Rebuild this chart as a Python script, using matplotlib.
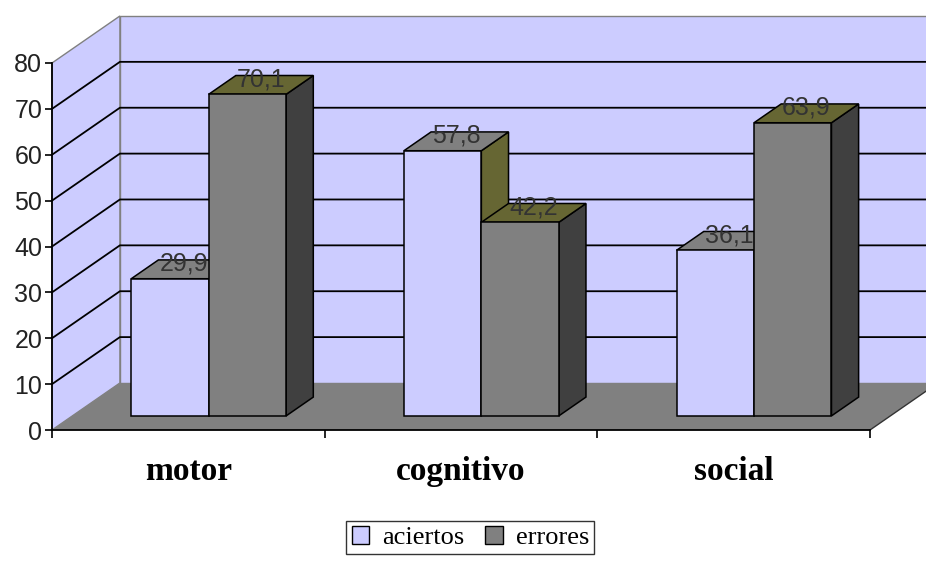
import matplotlib.pyplot as plt
from matplotlib.patches import Polygon
from matplotlib.ticker import FixedLocator

categories = ['motor', 'cognitivo', 'social']
aciertos = [29.9, 57.8, 36.1]
errores = [70.1, 42.2, 63.9]
yticks = [0, 10, 20, 30, 40, 50, 60, 70, 80]

plt.rcParams['font.family'] = ['Liberation Sans', 'DejaVu Sans']

# oblique "3d" look: full depth offset in data units (x in categories, y in value)
DX, DY = 0.249, 10.25
D0, D1 = 0.3, 0.7      # bar depth (front, back)
W = 0.284              # bar width in category units

lav = '#ccccff'
fig = plt.figure(figsize=(9.26, 5.63), dpi=100)
ax = fig.add_axes([52 / 926, 133 / 563, 818 / 926, 367 / 563])
ax.set_xlim(0, len(categories))
ax.set_ylim(0, 80)
ax.patch.set_visible(False)


def p(x, y, d):
    return (x + d * DX, y + d * DY)


def face(pts, fc, ec='black', lw=1.1, z=3):
    ax.add_patch(Polygon([p(*q) for q in pts], closed=True, facecolor=fc,
                         edgecolor=ec, linewidth=lw, zorder=z, clip_on=False))


n = len(categories)
top = yticks[-1]
# walls and floor
face([(0, 0, 1), (n, 0, 1), (n, top, 1), (0, top, 1)], lav, ec='#808080', lw=1, z=1)
face([(0, 0, 0), (0, 0, 1), (0, top, 1), (0, top, 0)], lav, ec='#808080', lw=1, z=1)
face([(0, 0, 0), (n, 0, 0), (n, 0, 1), (0, 0, 1)], '#808080', ec='none', lw=0, z=1.5)
ax.plot(*zip(p(n, 0, 0), p(n, 0, 1)), color='#333333', lw=1, zorder=1.6, clip_on=False)

# gridlines on back wall and side wall
for v in yticks[1:-1]:
    ax.plot(*zip(p(0, v, 0), p(0, v, 1), p(n, v, 1)), color='black', lw=1.3,
            zorder=2, clip_on=False)

# bars
series = [(aciertos, lav, '#808080', '#666633'),
          (errores, '#808080', '#666633', '#404040')]
z = 3
for i in range(n):
    for j, (vals, c_front, c_top, c_side) in enumerate(series):
        v = vals[i]
        x0 = i + 0.5 - W + j * W
        x1 = x0 + W
        face([(x1, 0, D0), (x1, 0, D1), (x1, v, D1), (x1, v, D0)], c_side, z=z)
        face([(x0, v, D0), (x1, v, D0), (x1, v, D1), (x0, v, D1)], c_top, z=z)
        face([(x0, 0, D0), (x1, 0, D0), (x1, v, D0), (x0, v, D0)], c_front, z=z)
        z += 1

for i in range(n):
    for j, (vals, *_c) in enumerate(series):
        v = vals[i]
        xc = i + 0.5 - W / 2 + j * W
        lx, ly = p(xc, v, (D0 + D1) / 2)
        ax.text(lx, ly - 0.3, f'{v:.1f}'.replace('.', ','), ha='center', va='baseline',
                fontsize=18, color='#333333', zorder=20)

# axes
for s in ['top', 'right']:
    ax.spines[s].set_visible(False)
ax.spines['left'].set_linewidth(1.3)
ax.spines['bottom'].set_linewidth(1.3)
ax.spines['left'].set_zorder(2.5)
ax.set_yticks(yticks)
ax.tick_params(axis='y', direction='out', length=5, width=1.2, pad=2,
               labelsize=18, labelcolor='#222222')
ax.set_xticks(range(n + 1))
ax.set_xticklabels([])
ax.xaxis.set_minor_locator(FixedLocator([i + 0.5 for i in range(n)]))
ax.set_xticklabels(categories, minor=True, fontsize=24, fontweight='bold',
                   family='Liberation Serif')
ax.tick_params(axis='x', which='major', direction='out', length=6, width=1.2)
ax.tick_params(axis='x', which='minor', length=0, pad=19)

handles = [Polygon([(0, 0)], facecolor=c, edgecolor='black', linewidth=1)
           for c in [lav, '#808080']]
leg = fig.legend(handles, ['aciertos', 'errores'], loc='center',
                 bbox_to_anchor=(0.508, 0.045), ncol=2, frameon=True, fancybox=False,
                 prop={'family': 'Liberation Serif', 'size': 19},
                 handlelength=0.65, handleheight=0.65, handletextpad=0.5,
                 columnspacing=0.8, borderpad=0.2, borderaxespad=0)
leg.get_frame().set_edgecolor('black')
leg.get_frame().set_linewidth(1)

fig.savefig('out.png', dpi=100)
